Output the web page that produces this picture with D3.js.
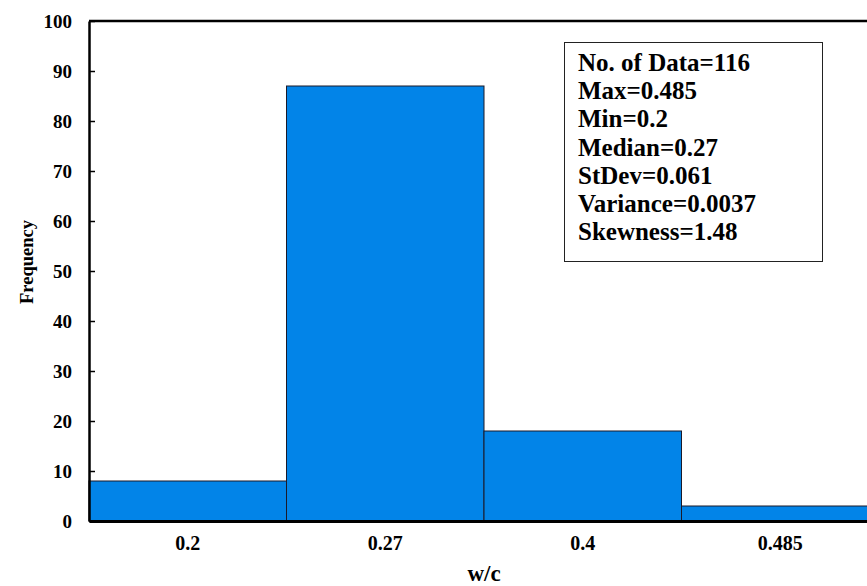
<!DOCTYPE html>
<html>
<head>
<meta charset="utf-8">
<script src="https://cdn.jsdelivr.net/npm/d3@7"></script>
<style>
  html, body { margin: 0; padding: 0; background: #fff; }
  svg { display: block; font-family: "Liberation Serif", "Times New Roman", serif; font-weight: bold; }
</style>
</head>
<body>
<svg id="chart" width="867" height="586"></svg>
<script>
// Histogram of w/c ratios
const bins = ["0.2", "0.27", "0.4", "0.485"];
const counts = [8, 87, 18, 3];
const yTicks = [0, 10, 20, 30, 40, 50, 60, 70, 80, 90, 100];
const statLines = [
  "No. of Data=116",
  "Max=0.485",
  "Min=0.2",
  "Median=0.27",
  "StDev=0.061",
  "Variance=0.0037",
  "Skewness=1.48"
];

const svg = d3.select("#chart");
const plot = { left: 89, right: 879, top: 21, bottom: 521 };

const x = d3.scaleBand().domain(bins).range([plot.left, plot.right]).padding(0);
const y = d3.scaleLinear().domain([0, 100]).range([plot.bottom, plot.top]);

// bars
svg.append("g").selectAll("rect")
  .data(bins)
  .join("rect")
  .attr("x", d => x(d))
  .attr("y", (d, i) => y(counts[i]))
  .attr("width", x.bandwidth())
  .attr("height", (d, i) => y(0) - y(counts[i]))
  .attr("fill", "#0284e8")
  .attr("stroke", "#1a1a2a")
  .attr("stroke-width", 1);

// top frame line
svg.append("line")
  .attr("x1", plot.left).attr("x2", plot.right)
  .attr("y1", plot.top).attr("y2", plot.top)
  .attr("stroke", "#000").attr("stroke-width", 2.5);

// y axis
const yAxis = svg.append("g")
  .attr("transform", `translate(${plot.left},0)`)
  .call(d3.axisLeft(y).tickValues(yTicks).tickSizeInner(-6).tickSizeOuter(0).tickPadding(17));
yAxis.select(".domain").attr("stroke", "#000").attr("stroke-width", 2.5);
yAxis.selectAll(".tick line").attr("stroke", "#000").attr("stroke-width", 1.5);
yAxis.selectAll(".tick text")
  .attr("font-size", 19).attr("font-family", "Liberation Serif, serif")
  .attr("font-weight", "bold").attr("fill", "#000");

// x axis
const xAxis = svg.append("g")
  .attr("transform", `translate(0,${plot.bottom})`)
  .call(d3.axisBottom(x).tickSize(0).tickPadding(15));
xAxis.select(".domain").attr("stroke", "#000").attr("stroke-width", 3);
xAxis.selectAll(".tick text")
  .attr("font-size", 20).attr("font-family", "Liberation Serif, serif")
  .attr("font-weight", "bold").attr("fill", "#000");

// axis titles
svg.append("text")
  .attr("x", (plot.left + plot.right) / 2).attr("y", 581)
  .attr("text-anchor", "middle").attr("font-size", 23)
  .text("w/c");

svg.append("text")
  .attr("transform", `translate(33,${(plot.top + plot.bottom) / 2 - 9}) rotate(-90)`)
  .attr("text-anchor", "middle").attr("font-size", 18.5)
  .text("Frequency");

// statistics box
const box = svg.append("g");
box.append("rect")
  .attr("x", 564.5).attr("y", 42.5).attr("width", 258).attr("height", 219)
  .attr("fill", "#fff").attr("stroke", "#222").attr("stroke-width", 1);
box.selectAll("text")
  .data(statLines)
  .join("text")
  .attr("x", 578)
  .attr("y", (d, i) => 71 + i * 28.2)
  .attr("font-size", 25)
  .text(d => d);
</script>
</body>
</html>
